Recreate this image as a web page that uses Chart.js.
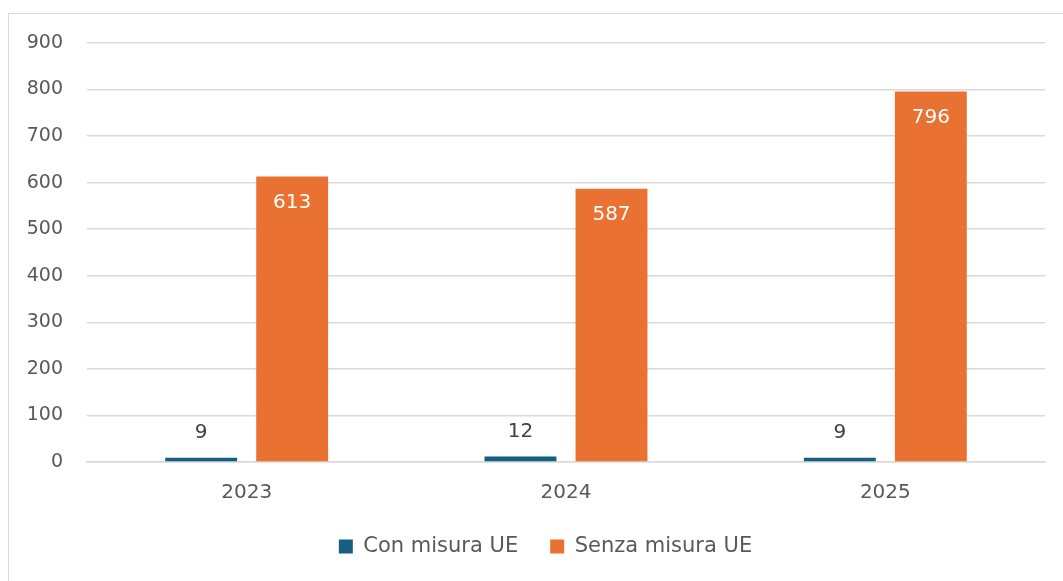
<!DOCTYPE html>
<html>
<head>
<meta charset="utf-8">
<script src="https://cdn.jsdelivr.net/npm/chart.js@4/dist/chart.umd.min.js"></script>
<style>
  html, body { margin: 0; padding: 0; background: #fff; }
  #wrap { position: relative; width: 1063px; height: 581px; overflow: hidden; }
  #frame { position: absolute; left: 8px; top: 13px; width: 1200px; height: 700px; border: 1px solid #d9d9d9; box-sizing: border-box; }
  #c { position: absolute; left: 0; top: 0; }
</style>
</head>
<body>
<div id="wrap">
  <div id="frame"></div>
  <canvas id="c" width="1063" height="581"></canvas>
</div>
<script>
const categories = ["2023", "2024", "2025"];
const conMisura = [9, 12, 9];
const senzaMisura = [613, 587, 796];
const seriesNames = ["Con misura UE", "Senza misura UE"];
const yTicks = [0, 100, 200, 300, 400, 500, 600, 700, 800, 900];

const FONT = "'DejaVu Sans', sans-serif";

const labelPlugin = {
  id: 'valueLabels',
  afterLayout(chart) {
    if (chart.legend) {
      chart.legend.left += 23;
      chart.legend.right += 23;
    }
  },
  afterDatasetsDraw(chart) {
    const ctx = chart.ctx;
    ctx.save();
    ctx.font = "20px " + FONT;
    ctx.textAlign = 'center';
    ctx.textBaseline = 'middle';
    chart.data.datasets.forEach((ds, di) => {
      const meta = chart.getDatasetMeta(di);
      meta.data.forEach((bar, i) => {
        const v = ds.data[i];
        if (di === 0) {
          ctx.fillStyle = '#404040';
          ctx.fillText(String(v), bar.x, bar.y - 25);
        } else {
          ctx.fillStyle = '#ffffff';
          ctx.fillText(String(v), bar.x, bar.y + 26);
        }
      });
    });
    ctx.restore();
  }
};

new Chart(document.getElementById('c'), {
  type: 'bar',
  data: {
    labels: categories,
    datasets: [
      { label: seriesNames[0], data: conMisura, backgroundColor: '#156082', categoryPercentage: 0.57, barPercentage: 0.79 },
      { label: seriesNames[1], data: senzaMisura, backgroundColor: '#E97132', categoryPercentage: 0.57, barPercentage: 0.79 }
    ]
  },
  options: {
    responsive: false,
    animation: false,
    layout: { padding: { top: 43, right: 18, left: 0, bottom: 14 } },
    plugins: {
      legend: {
        position: 'bottom',
        labels: {
          boxWidth: 14, boxHeight: 14, color: '#595959',
          font: { family: FONT, size: 21 },
          padding: 32
        }
      },
      tooltip: { enabled: false }
    },
    scales: {
      x: {
        afterFit(s) { s.height = s.height - 12; },
        grid: { display: false },
        border: { display: true, color: '#d9d9d9', width: 1.5 },
        ticks: { color: '#595959', font: { family: FONT, size: 20 }, padding: 11 }
      },
      y: {
        min: 0, max: 900,
        afterFit(s) { s.width = 87; },
        afterBuildTicks(s) { s.ticks = yTicks.map(v => ({ value: v })); },
        grid: { color: '#d9d9d9', lineWidth: 1.5, drawTicks: false },
        border: { display: false },
        ticks: { color: '#595959', font: { family: FONT, size: 19 }, padding: 24 }
      }
    }
  },
  plugins: [labelPlugin]
});
</script>
</body>
</html>
